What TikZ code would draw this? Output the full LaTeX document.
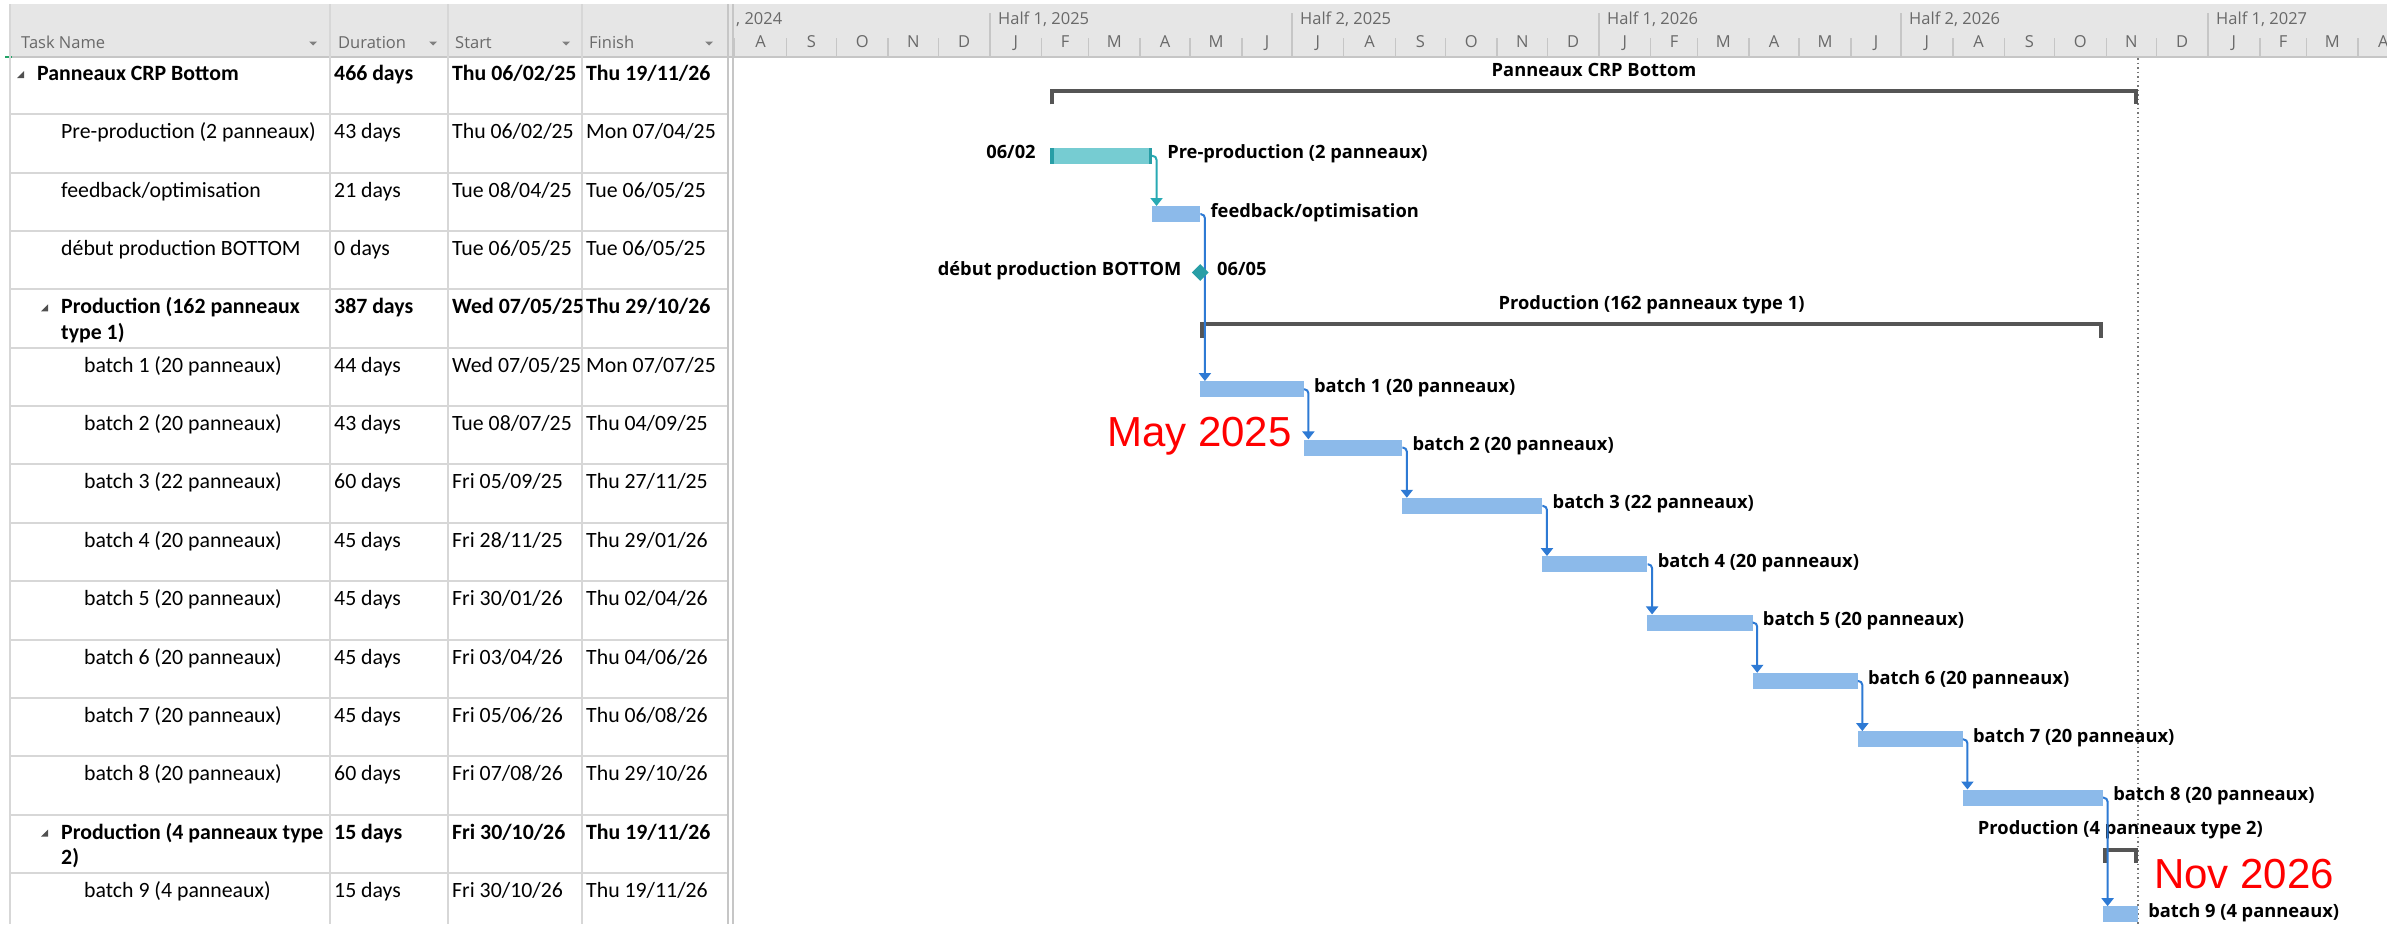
\documentclass[tikz,border=0pt]{standalone}
\usepackage{fontspec}
\setmainfont{Carlito}
\newfontfamily\hdrfont{Open Sans}
\newfontfamily\lblfont{Open Sans}
\newfontfamily\redfont{Liberation Sans}
\usetikzlibrary{arrows.meta,shapes.geometric}
\definecolor{hdrbg}{RGB}{230,230,230}
\definecolor{hdrtxt}{RGB}{105,105,105}
\definecolor{gridc}{RGB}{215,215,215}
\definecolor{tickc}{RGB}{198,198,198}
\definecolor{barblue}{RGB}{140,186,234}
\definecolor{linkblue}{RGB}{46,122,212}
\definecolor{tealfill}{RGB}{118,204,210}
\definecolor{tealdark}{RGB}{40,158,166}
\definecolor{teallink}{RGB}{40,170,180}
\definecolor{summc}{RGB}{85,85,85}
\definecolor{dotc}{RGB}{120,120,120}
\definecolor{xlgreen}{RGB}{33,163,102}
\definecolor{trigc}{RGB}{80,80,80}

\newcommand\GDX[1]{990+1.6685*(#1)}
\newcommand\GRT[1]{56+(#1-1)*58.35}

% table row: row, x of name, style, name, duration, start, finish
\newcommand\TRow[7]{%
  \node[cell,#3,anchor=base west] (tn#1) at (#2,{\GRT{#1}+24.5}) {#4};
  \node[cell,#3,anchor=base west] (td#1) at (334,{\GRT{#1}+24.5}) {#5};
  \node[cell,#3,anchor=base west] (ts#1) at (452,{\GRT{#1}+24.5}) {#6};
  \node[cell,#3,anchor=base west] (tf#1) at (586,{\GRT{#1}+24.5}) {#7};}
% collapse triangle: x, row
\newcommand\TTri[2]{%
  \fill[trigc] (#1,{\GRT{#2}+22}) -- ({#1+7},{\GRT{#2}+22}) -- ({#1+7},{\GRT{#2}+15}) -- cycle;}
% gantt bar: [style] name, row, start day, end day
\newcommand\GBar[5][]{%
  \node[gbar,#1,minimum width={1.6685*(#5-#4)*1pt}] (#2) at ({\GDX{(#4+#5)/2}},{\GRT{#3}+41.5}) {};}
% summary: name, row, start, end, label
\newcommand\GSum[5]{%
  \node[sumspan,minimum width={1.6685*(#4-#3)*1pt},anchor=north] (#1) at ({\GDX{(#3+#4)/2}},{\GRT{#2}+33}) {};
  \draw[summ] ([xshift=2pt]#1.south west) -- ([xshift=2pt,yshift=-2pt]#1.north west)
     -- ([xshift=-2pt,yshift=-2pt]#1.north east) -- ([xshift=-2pt]#1.south east);
  \node[lbl,anchor=base] (#1-l) at ({\GDX{(#3+#4)/2}},{\GRT{#2}+20}) {#5};}
% link: [style] from, to
\newcommand\GLink[3][link]{%
  \draw[#1] (#2.east) -| ([xshift=4.5pt]#2.east |- #3.north);}
% bar label right of bar
\newcommand\GLbl[3]{%
  \node[lbl,anchor=base west] (#1-l) at ([xshift=#2,yshift=-3pt]#1.east) {#3};}

\begin{document}
\begin{tikzpicture}[x=1pt,y=-1pt,
  cell/.style={inner sep=0pt,text=black,font=\fontsize{21.8}{26}\selectfont},
  bold/.style={font=\fontsize{21.8}{26}\selectfont\bfseries},
  hdr/.style={inner sep=0pt,text=hdrtxt,font=\hdrfont\fontsize{16.5}{20}\selectfont},
  lbl/.style={inner sep=0pt,text=black,font=\lblfont\bfseries\fontsize{18.3}{22}\selectfont},
  redlbl/.style={inner sep=0pt,text=red,font=\redfont\fontsize{42}{50}\selectfont},
  gridline/.style={draw=gridc,line width=2pt},
  tickline/.style={draw=tickc,line width=1.5pt},
  gbar/.style={rectangle,fill=barblue,draw=none,minimum height=16pt,inner sep=0pt},
  tealbar/.style={fill=tealfill},
  sumspan/.style={rectangle,draw=none,minimum height=15pt,inner sep=0pt},
  summ/.style={draw=summc,line width=4pt,line join=miter},
  link/.style={draw=linkblue,line width=2pt,rounded corners=4pt,-{Triangle[width=12pt,length=8pt]}},
  tlink/.style={link,draw=teallink},
  drop/.style={fill=hdrtxt!85}]

\clip (0,0) rectangle (2387,924);
\fill[white] (0,0) rectangle (2387,924);

% ---------- header ----------
\fill[hdrbg] (10,4) rectangle (2387,57);
\draw[gridline,draw=tickc] (10,57) -- (2387,57);
\draw[xlgreen,line width=2pt] (5,57) -- (12,57);

% table grid
\draw[gridline] (10,4) -- (10,924);
\foreach \x in {330,448,582} \draw[gridline] (\x,4) -- (\x,924);
\draw[gridline,draw=tickc] (728,4) -- (728,924);
\draw[gridline,draw=tickc] (733,4) -- (733,924);
\foreach \k in {1,...,14} \draw[gridline] (10,{56+\k*58.35}) -- (727,{56+\k*58.35});

% table header
\node[hdr,anchor=base west] (hTask) at (21,48) {Task Name};
\node[hdr,anchor=base west] (hDur) at (338,48) {Duration};
\node[hdr,anchor=base west] (hStart) at (455,48) {Start};
\node[hdr,anchor=base west] (hFin) at (589,48) {Finish};
\foreach \x in {313,433,566,709}
  \fill[drop] ({\x-4},41.5) -- ({\x+4},41.5) -- (\x,45.5) -- cycle;

% timescale
\foreach \s/\e/\m in {-153/-122/A,-122/-92/S,-92/-61/O,-61/-31/N,-31/0/D,0/31/J,31/59/F,59/90/M,90/120/A,120/151/M,151/181/J,181/212/J,212/243/A,243/273/S,273/304/O,304/334/N,334/365/D,365/396/J,396/424/F,424/455/M,455/485/A,485/516/M,516/546/J,546/577/J,577/608/A,608/638/S,638/669/O,669/699/N,699/730/D,730/761/J,761/789/F,789/820/M,820/850/A}{
  \node[hdr,anchor=base] (mon\s) at ({\GDX{(\s+\e)/2}},47) {\m};
  \draw[tickline] ({\GDX{\s}},38) -- ({\GDX{\s}},57);
}
\foreach \d in {0,181,365,546,730}
  \draw[tickline] ({\GDX{\d}},13) -- ({\GDX{\d}},57);
\node[hdr,anchor=base west] (h24) at (736,24) {, 2024};
\node[hdr,anchor=base west] (h251) at ({\GDX{0}+8},24) {Half 1, 2025};
\node[hdr,anchor=base west] (h252) at ({\GDX{181}+8},24) {Half 2, 2025};
\node[hdr,anchor=base west] (h261) at ({\GDX{365}+8},24) {Half 1, 2026};
\node[hdr,anchor=base west] (h262) at ({\GDX{546}+8},24) {Half 2, 2026};
\node[hdr,anchor=base west] (h271) at ({\GDX{730}+8},24) {Half 1, 2027};

% ---------- table rows ----------
\TTri{17}{1}
\TRow{1}{37}{bold}{Panneaux CRP Bottom}{466 days}{Thu 06/02/25}{Thu 19/11/26}
\TRow{2}{61}{}{Pre-production (2 panneaux)}{43 days}{Thu 06/02/25}{Mon 07/04/25}
\TRow{3}{61}{}{feedback/optimisation}{21 days}{Tue 08/04/25}{Tue 06/05/25}
\TRow{4}{61}{}{début production BOTTOM}{0 days}{Tue 06/05/25}{Tue 06/05/25}
\TTri{41}{5}
\TRow{5}{61}{bold}{Production (162 panneaux}{387 days}{Wed 07/05/25}{Thu 29/10/26}
\node[cell,bold,anchor=base west] (tn5b) at (61,{\GRT{5}+50}) {type 1)};
\TRow{6}{84}{}{batch 1 (20 panneaux)}{44 days}{Wed 07/05/25}{Mon 07/07/25}
\TRow{7}{84}{}{batch 2 (20 panneaux)}{43 days}{Tue 08/07/25}{Thu 04/09/25}
\TRow{8}{84}{}{batch 3 (22 panneaux)}{60 days}{Fri 05/09/25}{Thu 27/11/25}
\TRow{9}{84}{}{batch 4 (20 panneaux)}{45 days}{Fri 28/11/25}{Thu 29/01/26}
\TRow{10}{84}{}{batch 5 (20 panneaux)}{45 days}{Fri 30/01/26}{Thu 02/04/26}
\TRow{11}{84}{}{batch 6 (20 panneaux)}{45 days}{Fri 03/04/26}{Thu 04/06/26}
\TRow{12}{84}{}{batch 7 (20 panneaux)}{45 days}{Fri 05/06/26}{Thu 06/08/26}
\TRow{13}{84}{}{batch 8 (20 panneaux)}{60 days}{Fri 07/08/26}{Thu 29/10/26}
\TTri{41}{14}
\TRow{14}{61}{bold}{Production (4 panneaux type}{15 days}{Fri 30/10/26}{Thu 19/11/26}
\node[cell,bold,anchor=base west] (tn14b) at (61,{\GRT{14}+50}) {2)};
\TRow{15}{84}{}{batch 9 (4 panneaux)}{15 days}{Fri 30/10/26}{Thu 19/11/26}

% ---------- gantt ----------
\draw[dotc,line width=1.5pt,dash pattern=on 1.5pt off 3pt] ({\GDX{688}},58) -- ({\GDX{688}},924);

\GSum{sTop}{1}{36}{688}{Panneaux CRP Bottom}
\GSum{sP1}{5}{126}{667}{Production (162 panneaux type 1)}
\GSum{sP2}{14}{667}{688}{Production (4 panneaux type 2)}

\GBar[tealbar]{pp}{2}{36}{97}
\fill[tealdark] (pp.north west) rectangle ([xshift=4pt]pp.south west);
\fill[tealdark] ([xshift=-3pt]pp.north east) rectangle (pp.south east);
\GBar{fb}{3}{97}{126}
\GBar{b1}{6}{126}{188}
\GBar{b2}{7}{188}{247}
\GBar{b3}{8}{247}{331}
\GBar{b4}{9}{331}{394}
\GBar{b5}{10}{394}{457}
\GBar{b6}{11}{457}{520}
\GBar{b7}{12}{520}{583}
\GBar{b8}{13}{583}{667}
\GBar{b9}{15}{667}{688}

\GLink[tlink]{pp}{fb}
\GLink{fb}{b1}
\GLink{b1}{b2}
\GLink{b2}{b3}
\GLink{b3}{b4}
\GLink{b4}{b5}
\GLink{b5}{b6}
\GLink{b6}{b7}
\GLink{b7}{b8}
\GLink{b8}{b9}

\node[diamond,fill=tealdark,minimum width=17pt,minimum height=17pt,inner sep=0pt] (ms) at ({\GDX{126}},{\GRT{4}+41.5}) {};

\GLbl{pp}{15pt}{Pre-production (2 panneaux)}
\node[lbl,anchor=base east] (pp-d) at ([xshift=-14pt,yshift=-3pt]pp.west) {06/02};
\GLbl{fb}{10pt}{feedback/optimisation}
\node[lbl,anchor=base east] (ms-l) at ([xshift=-10pt,yshift=-3pt]ms.west) {début production BOTTOM};
\node[lbl,anchor=base west] (ms-d) at ([xshift=8pt,yshift=-3pt]ms.east) {06/05};
\GLbl{b1}{10pt}{batch 1 (20 panneaux)}
\GLbl{b2}{10pt}{batch 2 (20 panneaux)}
\GLbl{b3}{10pt}{batch 3 (22 panneaux)}
\GLbl{b4}{10pt}{batch 4 (20 panneaux)}
\GLbl{b5}{10pt}{batch 5 (20 panneaux)}
\GLbl{b6}{10pt}{batch 6 (20 panneaux)}
\GLbl{b7}{10pt}{batch 7 (20 panneaux)}
\GLbl{b8}{10pt}{batch 8 (20 panneaux)}
\GLbl{b9}{10pt}{batch 9 (4 panneaux)}

\node[redlbl,anchor=base west] (may) at (1107,446) {May 2025};
\node[redlbl,anchor=base west] (nov) at (2154,888) {Nov 2026};
\end{tikzpicture}
\end{document}
